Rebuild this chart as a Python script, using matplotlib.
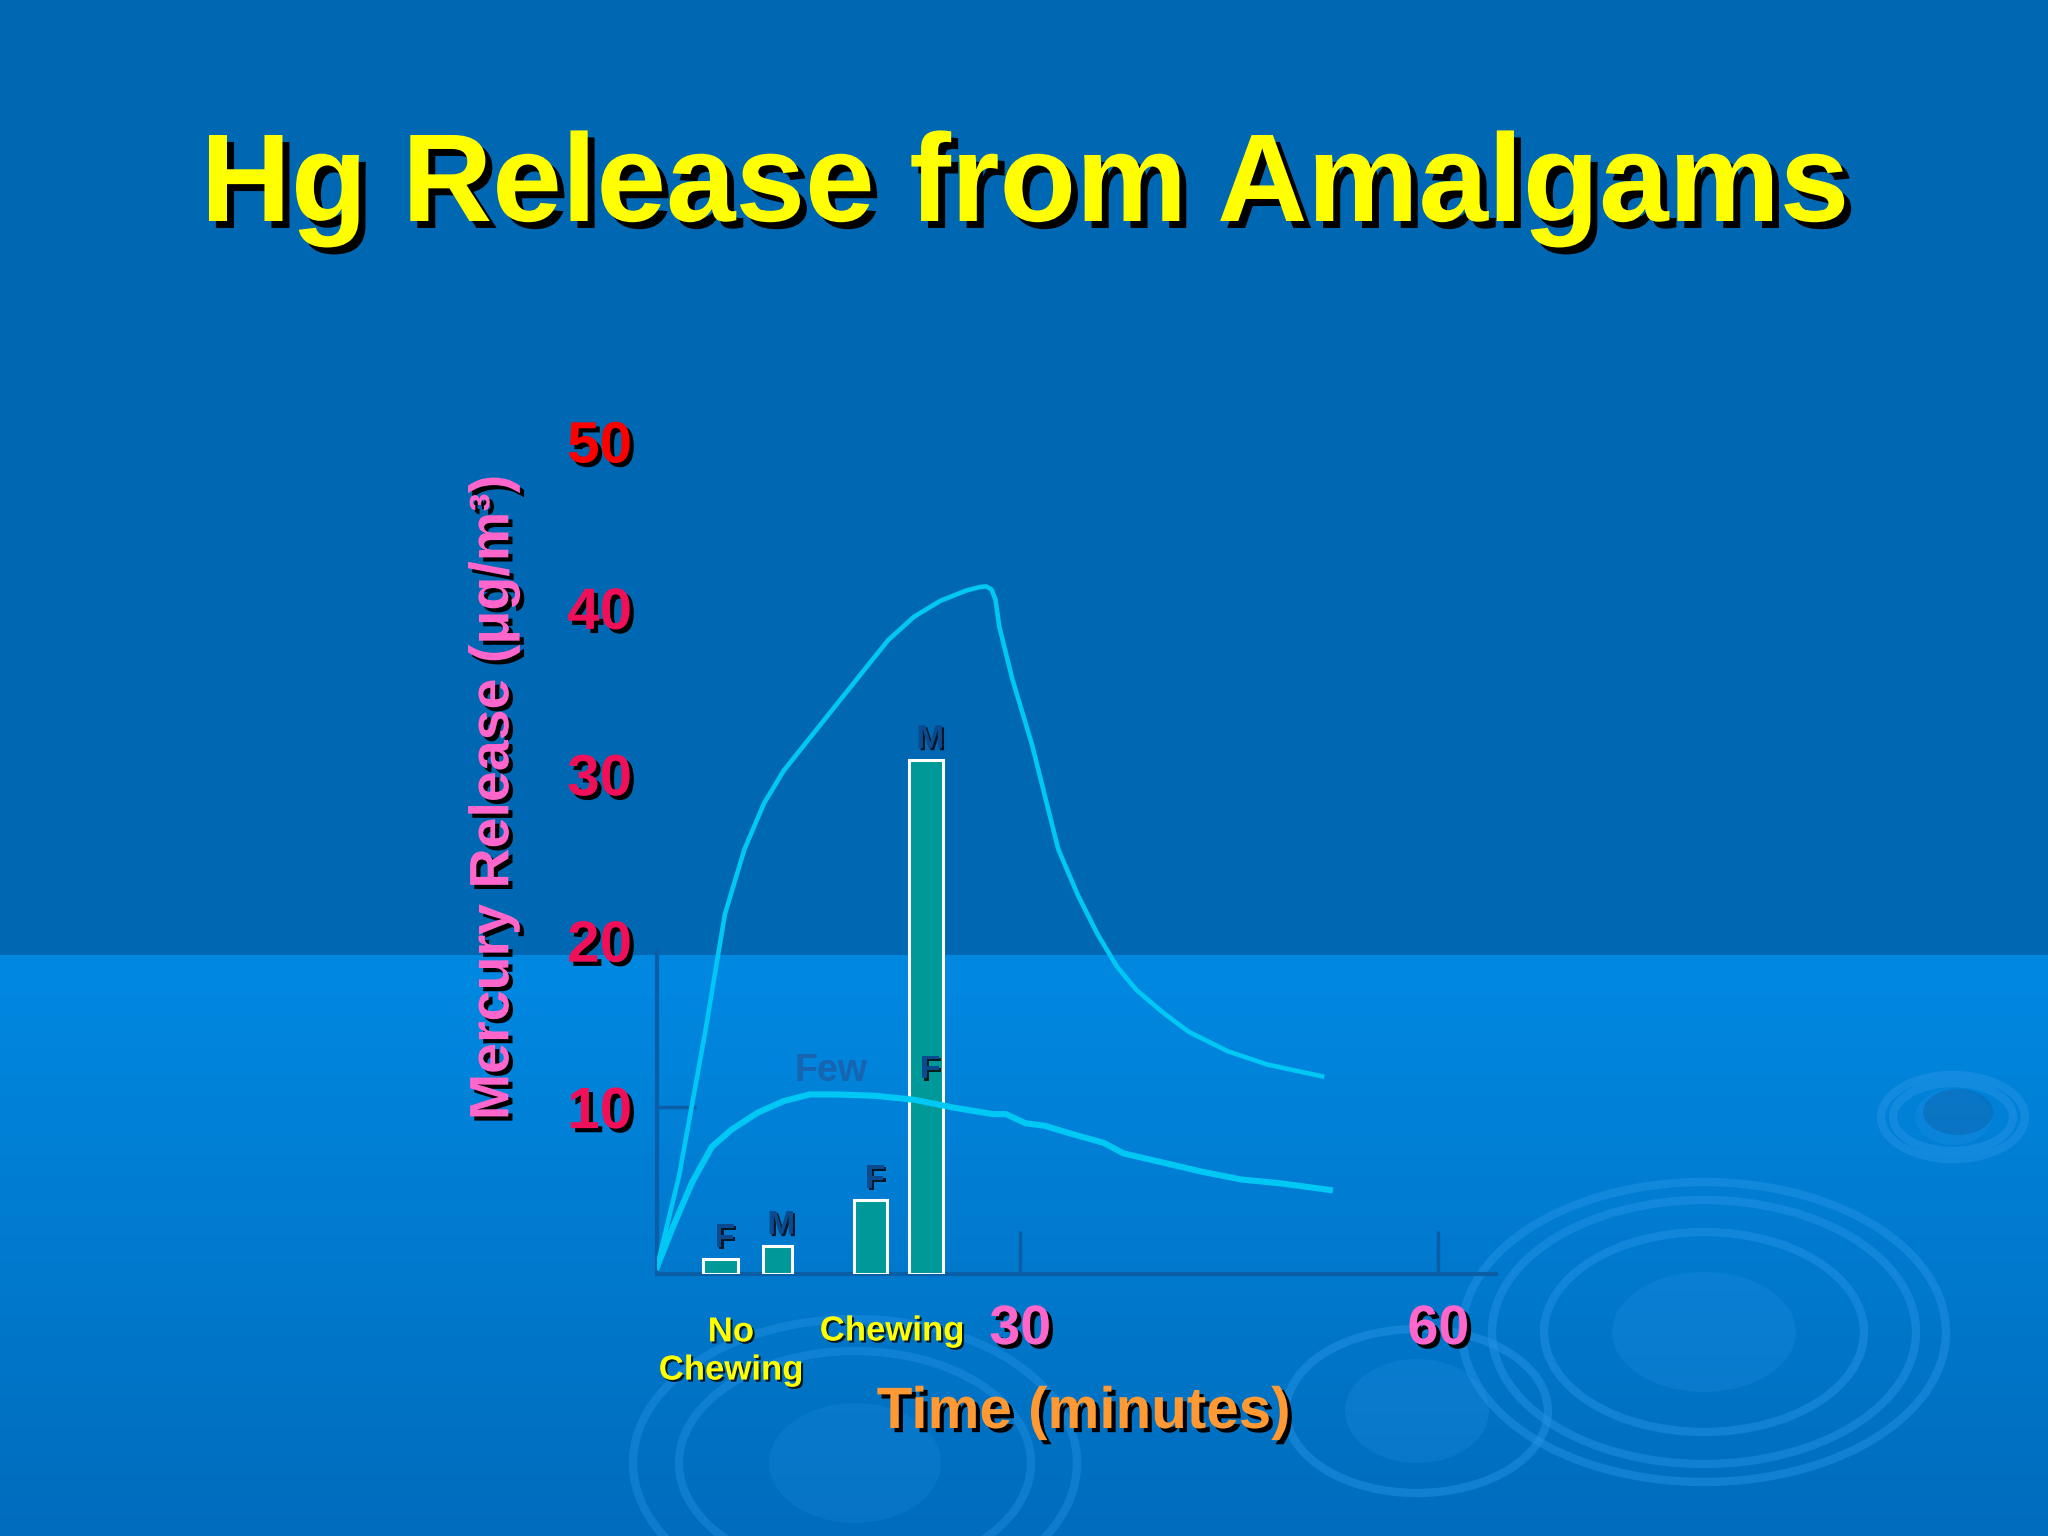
import matplotlib
matplotlib.use("Agg")
import matplotlib.pyplot as plt
import matplotlib.patheffects as pe
from matplotlib.patches import Ellipse
import numpy as np

plt.rcParams['font.family'] = ['Liberation Sans', 'DejaVu Sans']
plt.rcParams['font.weight'] = 'bold'

# chart data (minutes, ug/m3)
upper_t = [3.95, 5.54, 7.41, 8.82, 10.23, 11.63, 13.04, 14.91, 16.79, 18.66, 20.54, 22.41,
           24.29, 26.16, 27.10, 27.57, 27.95, 28.23, 28.51, 29.44, 30.85, 31.79, 32.73, 34.13,
           35.54, 36.94, 38.35, 40.22, 42.10, 44.91, 47.72, 51.66]
upper_hg = [0.39, 5.89, 14.52, 21.59, 25.51, 28.26, 30.22, 32.18, 34.15, 36.11, 38.07, 39.48,
            40.43, 41.05, 41.25, 41.29, 41.10, 40.50, 38.86, 35.72, 31.79, 28.65, 25.51, 22.76,
            20.41, 18.45, 17.03, 15.70, 14.52, 13.35, 12.56, 11.85]
lower_t = [3.95, 5.07, 6.48, 7.88, 9.29, 11.16, 13.04, 14.91, 16.79, 19.60, 22.41, 25.22,
           28.04, 28.98, 30.38, 31.79, 33.66, 36.00, 37.41, 40.22, 43.03, 45.85, 48.66, 52.22]
lower_hg = [0.39, 2.75, 5.50, 7.61, 8.64, 9.66, 10.36, 10.76, 10.76, 10.68, 10.44, 9.97,
            9.58, 9.58, 9.03, 8.87, 8.40, 7.85, 7.22, 6.67, 6.12, 5.65, 5.42, 5.02]
bar_x = [8.5, 12.57, 19.28, 23.26]
bar_h = [0.87, 1.65, 4.4, 30.85]
bar_labels = ['F', 'M', 'F', 'M']
y_ticks = [10, 20, 30, 40, 50]
x_ticks = [30, 60]

W, H = 2048, 1536
fig = plt.figure(figsize=(20.48, 15.36), dpi=100)

# slide background
bg = fig.add_axes([0, 0, 1, 1], zorder=0)
bg.set_xlim(0, W)
bg.set_ylim(H, 0)
bg.axis('off')
bg.add_patch(plt.Rectangle((0, 0), W, 955, color='#0068b2', zorder=0))
grad = np.linspace(0, 1, 256).reshape(-1, 1)
top_c = np.array([0, 137, 226]) / 255
bot_c = np.array([0, 108, 188]) / 255
img = top_c + (bot_c - top_c) * grad[..., None]
bg.imshow(img, extent=[0, W, H, 955], aspect='auto', zorder=0)

ring = '#2a96e8'
def ripple(cx, cy, radii, disk, alpha=0.45):
    for rx, ry in radii:
        bg.add_patch(Ellipse((cx, cy), 2 * rx, 2 * ry, fill=False, edgecolor=ring,
                             lw=6, alpha=alpha, zorder=1))
    bg.add_patch(Ellipse((cx, cy), 2 * disk[0], 2 * disk[1], facecolor=ring,
                         edgecolor='none', alpha=alpha * 0.5, zorder=1))

ripple(1704, 1332, [(242, 150), (212, 132), (160, 100)], (92, 60))
ripple(1417, 1411, [(131, 82)], (72, 52))
ripple(855, 1463, [(222, 144), (176, 112)], (86, 60), alpha=0.38)
ripple(1953, 1117, [(72, 42), (60, 34)], (38, 28), alpha=0.45)
bg.add_patch(Ellipse((1958, 1112), 70, 46, facecolor='#0a62a8', edgecolor='none',
                     alpha=0.45, zorder=1))

# main chart axes
x0, x1 = 3.95, 64.1
y0, y1 = 0, 52
left = 657 / W
bottom = 1 - 1273.5 / H
ax = fig.add_axes([left, bottom, 1495.5 / W - left, (1 - 408.2 / H) - bottom], zorder=2)
ax.set_facecolor('none')
ax.set_xlim(x0, x1)
ax.set_ylim(y0, y1)

axis_c = '#0a5ea6'
for s in ['top', 'right']:
    ax.spines[s].set_visible(False)
ax.spines['left'].set_color(axis_c)
ax.spines['bottom'].set_color(axis_c)
ax.spines['left'].set_linewidth(3)
ax.spines['bottom'].set_linewidth(3)
ax.spines['left'].set_bounds(0, 19.3)

shadow = [pe.withSimplePatchShadow(offset=(3, -3), shadow_rgbFace='black', alpha=1.0)]
small_shadow = [pe.withSimplePatchShadow(offset=(1.5, -1.5), shadow_rgbFace='black', alpha=0.8)]

ax.set_yticks(y_ticks)
ax.set_yticklabels([str(v) for v in y_ticks], fontsize=42, fontweight='bold')
ax.tick_params(axis='y', direction='in', length=28, width=2.5, color=axis_c, pad=18)
for v, lab, tk in zip(y_ticks, ax.get_yticklabels(), ax.yaxis.get_major_ticks()):
    lab.set_color('#ff0000' if v == 50 else '#f0105a')
    lab.set_path_effects(shadow)
    if v != 10:
        tk.tick1line.set_visible(False)

ax.set_xticks(x_ticks)
ax.set_xticklabels([str(v) for v in x_ticks], fontsize=40, fontweight='bold', color='#ff66cc')
ax.tick_params(axis='x', direction='in', length=31, width=2.5, color=axis_c, pad=22)
for lab in ax.get_xticklabels():
    lab.set_path_effects(shadow)

# bars
bar_w = [2.54, 2.06, 2.35, 2.44]
ax.bar(bar_x, bar_h, width=bar_w, color='#009999', edgecolor='white', linewidth=2.2, zorder=3)
for x, h, lab in zip(bar_x, bar_h, bar_labels):
    ax.text(x + 0.3, h + 0.3, lab, ha='center', va='bottom', fontsize=24, fontweight='bold',
            color='#0b4a8f', path_effects=small_shadow, zorder=5)
ax.text(bar_x[3] + 0.3, 11.3, 'F', ha='center', va='bottom', fontsize=24, fontweight='bold',
        color='#0b4a8f', path_effects=small_shadow, zorder=5)
ax.text(16.4, 11.1, 'Few', ha='center', va='bottom', fontsize=27, fontweight='bold',
        color='#1764b0', zorder=2)

# curves
ax.plot(upper_t, upper_hg, color='#00c8f5', lw=3.3, solid_joinstyle='round', zorder=4)
ax.plot(lower_t, lower_hg, color='#00c8f5', lw=4.4, solid_joinstyle='round', zorder=4)

ax.set_ylabel('Mercury Release (\u03bcg/m\u00b3)', fontsize=40, fontweight='bold',
              color='#ff66cc', va='center', path_effects=shadow)
ax.yaxis.set_label_coords(-0.194, 0.5495)

# slide texts
fig.text(1025 / W, 1 - 189 / H, 'Hg Release from Amalgams', ha='center', va='center',
         fontsize=90, fontweight='bold', color='#ffff00',
         path_effects=[pe.withSimplePatchShadow(offset=(5, -5), shadow_rgbFace='black', alpha=1.0)])
fig.text(1084 / W, 1 - 1413 / H, 'Time (minutes)', ha='center', va='center',
         fontsize=42, fontweight='bold', color='#ff9933', path_effects=shadow)
fig.text(731 / W, 1 - 1351 / H, 'No\nChewing', ha='center', va='center', linespacing=1.2,
         fontsize=25, fontweight='bold', color='#ffff00', path_effects=small_shadow)
fig.text(892 / W, 1 - 1331 / H, 'Chewing', ha='center', va='center',
         fontsize=25, fontweight='bold', color='#ffff00', path_effects=small_shadow)

fig.savefig('out.png', dpi=100)
